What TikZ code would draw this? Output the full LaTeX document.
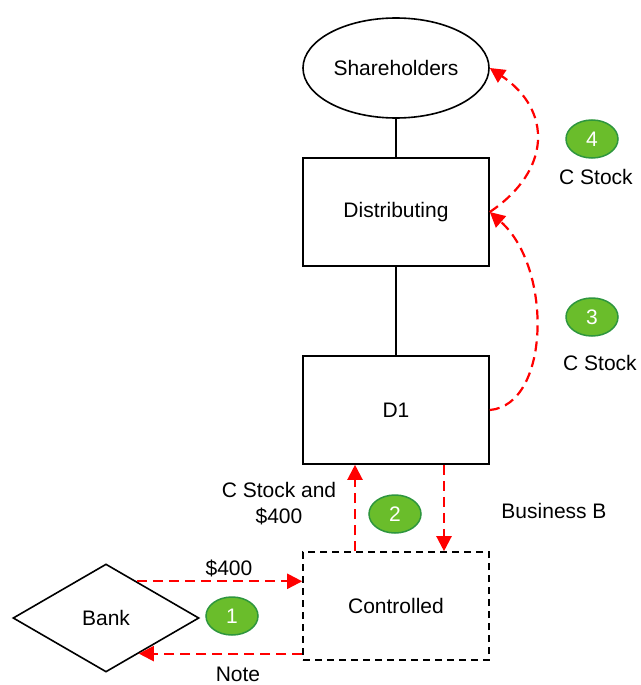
\documentclass[tikz,border=0pt]{standalone}
\usepackage{fontspec}
\setmainfont{Liberation Sans}
\usetikzlibrary{shapes.geometric,arrows.meta,calc}
\definecolor{stepfill}{RGB}{106,189,43}
\definecolor{stepedge}{RGB}{46,150,62}
\begin{document}
\begin{tikzpicture}[x=1pt,y=-1pt,
  every node/.style={font=\fontsize{21}{26}\selectfont},
  entity/.style={draw=black,line width=1.6pt,fill=white,minimum width=186pt,minimum height=108pt,inner sep=0pt},
  party/.style={draw=black,line width=1.6pt,fill=white,ellipse,minimum width=186pt,minimum height=100pt,inner sep=0pt},
  newco/.style={draw=black,line width=1.6pt,dash pattern=on 7pt off 5pt,fill=white,minimum width=186pt,minimum height=108pt,inner sep=0pt},
  lender/.style={draw=black,line width=1.6pt,fill=white,diamond,minimum width=186pt,minimum height=108pt,inner sep=0pt},
  flow/.style={draw=red,line width=2.2pt,dash pattern=on 10pt off 6pt,-{Triangle[length=15pt,width=15pt]}},
  link/.style={draw=black,line width=1.6pt},
  badge/.style={ellipse,draw=stepedge,line width=1.5pt,fill=stepfill,text=white,minimum width=52pt,minimum height=38pt,inner sep=0pt},
  tag/.style={align=center,inner sep=0pt}]
\useasboundingbox (0,0) rectangle (640,685);

% entities
\node[party]  (sh)   at (396,68)  {Shareholders};
\node[entity] (dist) at (396,212) {Distributing};
\node[entity] (d1)   at (396,410) {D1};
\node[newco]  (ctrl) at (396,606) {Controlled};
\node[lender] (bank) at (106,618) {Bank};

% ownership lines
\draw[link] (sh.south) -- (dist.north);
\draw[link] (dist.south) -- (d1.north);

% step 1: loan from the bank
\coordinate (cash) at ($(bank.north)!0.33!(bank.east)$);
\coordinate (note) at ($(bank.south)!0.35!(bank.east)$);
\draw[flow] (cash) -- (cash -| ctrl.west);
\draw[flow] (note -| ctrl.west) -- (note);

% step 2: exchange between D1 and Controlled
\draw[flow] ([xshift=-41pt]ctrl.north) -- ([xshift=-41pt]d1.south);
\draw[flow] ([xshift=48pt]d1.south) -- ([xshift=48pt]ctrl.north);

% steps 3 and 4: distributions of C stock
\draw[flow] (d1.east) .. controls (550,405) and (553,268) .. (dist.east);
\draw[flow] (dist.east) .. controls (552,170) and (552,110) .. (sh.east);

% step badges
\node[badge] (s1) at (232,616) {1};
\node[badge] (s2) at (395,514) {2};
\node[badge] (s3) at (592,317) {3};
\node[badge] (s4) at (592,139) {4};

% labels
\node[tag] (l400)  at (229,568) {\$400};
\node[tag] (lnote) at (238,674) {Note};
\node[tag] (lcs)   at (279,504) {C Stock and\\\$400};
\node[tag] (lbus)  at (554,511) {Business B};
\node[tag] (lc3)   at (600,363) {C Stock};
\node[tag] (lc4)   at (596,177) {C Stock};
\end{tikzpicture}
\end{document}
